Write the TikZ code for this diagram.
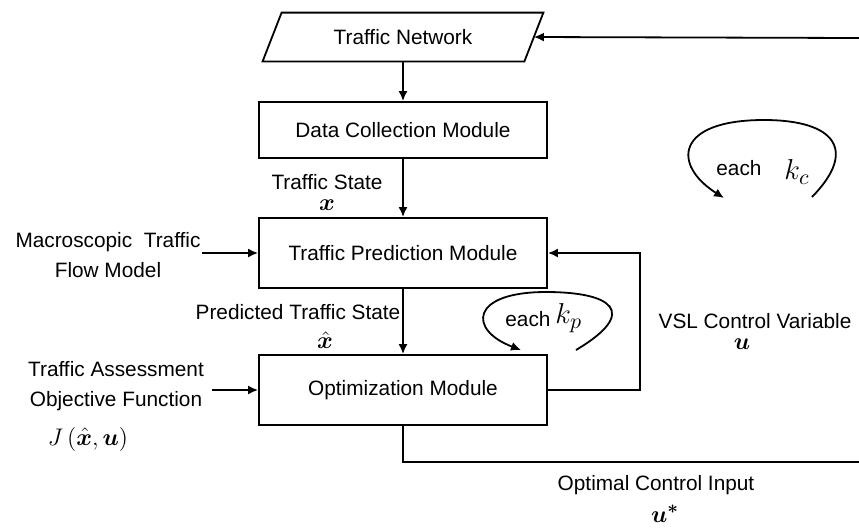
\documentclass[tikz,border=0pt]{standalone}
\usepackage{fontspec}
\setmainfont{Liberation Sans}
\usepackage{bm}
\usetikzlibrary{calc,arrows.meta}

\tikzset{
  module/.style={draw, line width=0.9pt, minimum width=144pt, minimum height=35pt, inner sep=0pt, font=\fontsize{10.4}{12.5}\selectfont},
  flow/.style={-{Latex[length=5pt,width=4.5pt]}, line width=0.9pt},
  txt/.style={inner sep=0pt, align=center, font=\fontsize{10.4}{15}\selectfont},
  sym/.style={inner sep=0pt, font=\fontsize{13}{15}\selectfont}
}

\begin{document}
\begin{tikzpicture}[x=0.5pt, y=-0.5pt]
                \useasboundingbox (0,0) rectangle (859,527);

                % the modules of the chain
                \node[txt, minimum width=140pt, minimum height=24pt] (net) at (403,37) {Traffic Network};
                \draw[line width=0.9pt] ($(net.north west)+(19,0)$) -- (net.north east) -- ($(net.south east)+(-19,0)$) -- (net.south west) -- cycle;
                \node[module, minimum height=28pt] (dcm) at (403,130) {Data Collection Module};
                \node[module] (tpm) at (403,253) {Traffic Prediction Module};
                \node[module] (opt) at (403,390) {Optimization Module};

                % inputs coming from the left
                \node[txt] (model) at (108,255) {Macroscopic~~Traffic\\Flow Model};
                \node[txt] (assess) at (116,386) {Traffic Assessment\\Objective Function};
                \node[sym] (cost) at (88,439) {$J\,\bigl(\hat{\bm{x}},\bm{u}\bigr)$};
                \coordinate (modelin) at (202,253);
                \coordinate (assessin) at (212,390);

                % labels along the chain
                \node[txt] (state) at (327,182) {Traffic State};
                \node[sym] (statex) at (327,205) {$\bm{x}$};
                \node[txt] (pred) at (298,312) {Predicted Traffic State};
                \node[sym] (predx) at (325,340) {$\hat{\bm{x}}$};
                \node[txt] (vsl) at (755,321) {VSL Control Variable};
                \node[sym] (vslu) at (742,344) {$\bm{u}$};
                \node[txt] (optin) at (656,485) {Optimal Control Input};
                \node[sym] (optu) at (665,514) {$\bm{u}^{\bm{*}}$};

                % the two time loops
                \node[txt, anchor=west] (eachp) at (505,319) {each};
                \node[sym, anchor=west, font=\fontsize{15}{17}\selectfont] (kp) at (555,318) {$k_p$};
                \node[txt, anchor=west] (eachc) at (716,168) {each};
                \node[sym, anchor=west, font=\fontsize{15}{17}\selectfont] (kc) at (784,172) {$k_c$};
                \coordinate (ptail) at (576,350);
                \coordinate (phead) at (521,350);
                \coordinate (ctail) at (812,197);
                \coordinate (chead) at (724,198);

                % right edge and feedback corners
                \coordinate (netin) at (859,38);
                \coordinate (out) at (859,462);
                \coordinate (back) at (640,390);

                \draw[flow] (net.south) -- (dcm.north);
                \draw[flow] (dcm.south) -- (tpm.north);
                \draw[flow] (tpm.south) -- (opt.north);
                \draw[flow] (modelin) -- (tpm.west);
                \draw[flow] (assessin) -- (opt.west);
                \draw[flow] (opt.east) -- (back) |- (tpm.east);
                \draw[line width=0.9pt] (opt.south) |- (out);
                \draw[flow] (netin) -- ($(net.east)+(-9.5,0)$);

                \draw[flow] (ptail) .. controls (640,312) and (612,292) .. (546,292) .. controls (470,292) and (468,330) .. (phead);
                \draw[flow] (ctail) .. controls (858,150) and (835,120) .. (764,120) .. controls (675,120) and (672,165) .. (chead);
            \end{tikzpicture}
\end{document}
